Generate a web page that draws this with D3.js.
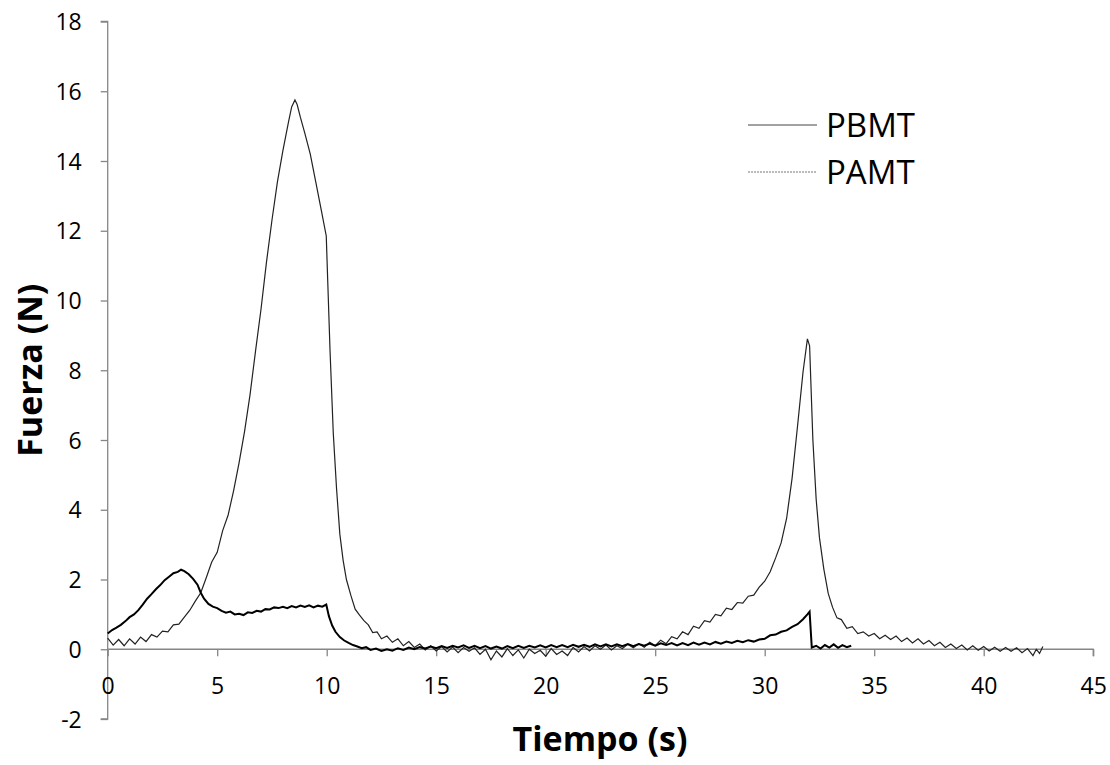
<!DOCTYPE html>
<html>
<head>
<meta charset="utf-8">
<script src="https://cdn.jsdelivr.net/npm/d3@7.9.0/dist/d3.min.js"></script>
<style>
  body { margin: 0; background: #fff; }
  svg text { font-family: "Open Sans", "Noto Sans", sans-serif; fill: #000; }
</style>
</head>
<body>
<svg id="chart" width="1110" height="765"></svg>
<script>
// series names as in the legend
const seriesNames = ['PBMT', 'PAMT'];

// PBMT: lower curve (hump near 3 s, small peak near 32 s)  [tiempo, fuerza]
const pbmt = [
  [0.00,0.45],[0.20,0.55],[0.40,0.62],[0.60,0.70],[0.80,0.80],[1.00,0.92],[1.20,1.00],[1.40,1.12],
  [1.60,1.28],[1.80,1.45],[2.00,1.58],[2.20,1.72],[2.40,1.84],[2.60,1.98],[2.80,2.08],[3.00,2.18],
  [3.20,2.22],[3.35,2.28],[3.50,2.24],[3.70,2.15],[3.90,2.02],[4.10,1.85],[4.25,1.62],[4.40,1.45],
  [4.60,1.30],[4.80,1.22],[5.00,1.18],[5.20,1.10],[5.40,1.05],[5.60,1.08],[5.80,1.00],[6.00,1.02],
  [6.20,0.98],[6.40,1.06],[6.60,1.04],[6.80,1.10],[7.00,1.08],[7.20,1.15],[7.40,1.14],[7.60,1.20],
  [7.80,1.18],[8.00,1.22],[8.20,1.18],[8.40,1.24],[8.60,1.20],[8.80,1.25],[9.00,1.21],[9.20,1.26],
  [9.40,1.20],[9.60,1.25],[9.80,1.22],[9.98,1.28],[10.10,0.95],[10.25,0.68],[10.40,0.50],[10.60,0.35],
  [10.80,0.25],[11.00,0.18],[11.20,0.12],[11.40,0.08],[11.60,0.03],[11.80,0.06],[12.00,-0.02],[12.25,0.02],
  [12.50,-0.05],[12.75,0.00],[13.00,-0.04],[13.25,0.03],[13.50,-0.02],[13.75,0.05],[14.00,0.00],[14.25,0.06],
  [14.50,0.02],[14.75,0.08],[15.00,0.03],[15.25,0.09],[15.50,0.04],[15.75,0.10],[16.00,0.05],[16.25,0.11],
  [16.50,0.04],[16.75,0.10],[17.00,0.03],[17.25,0.09],[17.50,0.02],[17.75,0.08],[18.00,0.02],[18.25,0.09],
  [18.50,0.03],[18.75,0.10],[19.00,0.04],[19.25,0.10],[19.50,0.05],[19.75,0.11],[20.00,0.05],[20.25,0.12],
  [20.50,0.06],[20.75,0.12],[21.00,0.06],[21.25,0.13],[21.50,0.07],[21.75,0.13],[22.00,0.07],[22.25,0.14],
  [22.50,0.08],[22.75,0.14],[23.00,0.08],[23.25,0.14],[23.50,0.09],[23.75,0.15],[24.00,0.09],[24.25,0.15],
  [24.50,0.10],[24.75,0.16],[25.00,0.10],[25.25,0.17],[25.50,0.12],[25.75,0.18],[26.00,0.11],[26.25,0.18],
  [26.50,0.12],[26.75,0.19],[27.00,0.13],[27.25,0.19],[27.50,0.14],[27.75,0.21],[28.00,0.16],[28.25,0.22],
  [28.50,0.18],[28.75,0.24],[29.00,0.20],[29.25,0.26],[29.50,0.22],[29.75,0.28],[30.00,0.30],[30.25,0.40],
  [30.50,0.42],[30.75,0.50],[31.00,0.54],[31.25,0.64],[31.50,0.72],[31.75,0.86],[31.95,1.00],[32.05,1.08],
  [32.15,0.05],[32.35,0.10],[32.55,0.02],[32.75,0.12],[32.95,0.05],[33.15,0.14],[33.35,0.04],[33.55,0.12],
  [33.75,0.06],[33.95,0.10]
];

// PAMT: big peak near 8.5 s and second peak near 32 s
const pamt = [
  [0.00,0.32],[0.25,0.12],[0.50,0.28],[0.75,0.10],[1.00,0.30],[1.25,0.15],[1.50,0.35],[1.75,0.22],
  [2.00,0.42],[2.25,0.35],[2.50,0.52],[2.75,0.50],[3.00,0.70],[3.25,0.72],[3.50,0.92],[3.75,1.12],
  [4.00,1.38],[4.25,1.62],[4.50,2.05],[4.75,2.50],[5.00,2.78],[5.25,3.40],[5.50,3.85],[5.75,4.55],
  [6.00,5.35],[6.25,6.25],[6.50,7.30],[6.75,8.55],[7.00,9.75],[7.25,11.10],[7.50,12.30],[7.75,13.40],
  [8.00,14.30],[8.25,15.10],[8.40,15.55],[8.55,15.75],[8.65,15.62],[8.80,15.25],[9.00,14.80],[9.25,14.20],
  [9.50,13.40],[9.75,12.60],[9.98,11.85],[10.05,10.50],[10.15,8.60],[10.30,6.20],[10.45,4.60],[10.60,3.30],
  [10.75,2.55],[10.90,2.00],[11.10,1.55],[11.30,1.15],[11.50,0.98],[11.70,0.82],[11.90,0.70],[12.10,0.48],
  [12.30,0.50],[12.50,0.30],[12.75,0.38],[13.00,0.20],[13.25,0.30],[13.50,0.10],[13.75,0.22],[14.00,0.05],
  [14.25,0.15],[14.50,-0.02],[14.75,0.10],[15.00,-0.05],[15.25,0.08],[15.50,-0.08],[15.75,0.06],[16.00,-0.10],
  [16.25,0.05],[16.50,-0.06],[16.75,0.04],[17.00,-0.15],[17.25,0.00],[17.50,-0.30],[17.75,-0.05],[18.00,-0.22],
  [18.25,0.02],[18.50,-0.18],[18.75,-0.02],[19.00,-0.25],[19.25,0.00],[19.50,-0.12],[19.75,-0.03],[20.00,-0.20],
  [20.25,0.02],[20.50,-0.15],[20.75,-0.05],[21.00,-0.18],[21.25,0.05],[21.50,-0.08],[21.75,0.08],[22.00,-0.05],
  [22.25,0.10],[22.50,0.00],[22.75,0.12],[23.00,-0.02],[23.25,0.10],[23.50,0.02],[23.75,0.14],[24.00,0.04],
  [24.25,0.16],[24.50,0.06],[24.75,0.20],[25.00,0.10],[25.25,0.26],[25.50,0.16],[25.75,0.36],[26.00,0.30],
  [26.25,0.50],[26.50,0.42],[26.75,0.66],[27.00,0.60],[27.25,0.82],[27.50,0.78],[27.75,1.00],[28.00,0.96],
  [28.25,1.18],[28.50,1.14],[28.75,1.34],[29.00,1.32],[29.25,1.52],[29.50,1.55],[29.75,1.78],[30.00,1.95],
  [30.25,2.22],[30.50,2.62],[30.75,3.05],[31.00,3.75],[31.25,4.90],[31.50,6.40],[31.75,7.95],[31.95,8.90],
  [32.05,8.70],[32.20,6.00],[32.35,4.30],[32.50,3.20],[32.70,2.30],[32.90,1.60],[33.10,1.20],[33.30,0.90],
  [33.50,0.85],[33.75,0.60],[34.00,0.65],[34.25,0.45],[34.50,0.50],[34.75,0.38],[35.00,0.45],[35.25,0.30],
  [35.50,0.40],[35.75,0.28],[36.00,0.38],[36.25,0.22],[36.50,0.32],[36.75,0.18],[37.00,0.30],[37.25,0.15],
  [37.50,0.25],[37.75,0.10],[38.00,0.20],[38.25,0.05],[38.50,0.15],[38.75,0.02],[39.00,0.12],[39.25,-0.02],
  [39.50,0.10],[39.75,-0.03],[40.00,0.08],[40.25,-0.05],[40.50,0.06],[40.75,-0.06],[41.00,0.05],[41.25,-0.06],
  [41.50,0.04],[41.75,-0.10],[42.00,0.02],[42.25,-0.18],[42.40,0.00],[42.55,-0.12],[42.70,0.08]
];

const xTicks = [0, 5, 10, 15, 20, 25, 30, 35, 40, 45];
const yTicks = [-2, 0, 2, 4, 6, 8, 10, 12, 14, 16, 18];

const svg = d3.select('#chart');
const axisColor = '#868686';

let x = d3.scaleLinear().domain([0, 45]).range([107.7, 1093.2]);
let y = d3.scaleLinear().domain([-2, 18]).range([719, 21.5]);

// y axis (vertical line at x = 0)
let yAxis = svg.append('g').attr('transform', `translate(${x(0)},0)`)
  .call(d3.axisLeft(y).tickValues(yTicks).tickSize(7).tickPadding(19).tickFormat(d => String(d)));
yAxis.select('.domain').attr('stroke', axisColor).attr('stroke-width', 1.3).attr('d', `M-7,${y(-2)}H0V${y(18)}H-7`);
yAxis.selectAll('.tick line').attr('stroke', axisColor).attr('stroke-width', 1.3);
yAxis.selectAll('.tick text').style('font-size', '23px').attr('dy', '0.35em').attr('fill', '#000');

// x axis at y = 0
let xAxis = svg.append('g').attr('transform', `translate(0,${y(0)})`)
  .call(d3.axisBottom(x).tickValues(xTicks).tickSize(7).tickPadding(21).tickFormat(d => String(d)));
xAxis.select('.domain').attr('stroke', axisColor).attr('stroke-width', 1.3).attr('d', `M${x(0)},0H${x(45)}V7`);
xAxis.selectAll('.tick line').attr('stroke', axisColor).attr('stroke-width', 1.3);
xAxis.selectAll('.tick text').style('font-size', '23px').attr('fill', '#000');

// lines
let line = d3.line().x(d => x(d[0])).y(d => y(d[1]));

svg.append('path').datum(pamt)
  .attr('d', line).attr('fill', 'none').attr('stroke', '#222').attr('stroke-width', 1.2);
svg.append('path').datum(pbmt)
  .attr('d', line).attr('fill', 'none').attr('stroke', '#000').attr('stroke-width', 2);

// axis titles
svg.append('text').attr('x', 600).attr('y', 751).attr('text-anchor', 'middle')
  .style('font-size', '34px').style('font-weight', 'bold').text('Tiempo (s)');
svg.append('text').attr('transform', `translate(42,${y(8)}) rotate(-90)`).attr('text-anchor', 'middle')
  .style('font-size', '34px').style('font-weight', 'bold').text('Fuerza (N)');

// legend
let legendY = [125, 172];
seriesNames.forEach((name, i) => {
  svg.append('line').attr('x1', 748).attr('x2', 817).attr('y1', legendY[i]).attr('y2', legendY[i])
    .attr('stroke', i === 0 ? '#444' : '#777').attr('stroke-width', 1)
    .attr('stroke-dasharray', i === 0 ? null : '2,1');
  svg.append('text').attr('x', 826).attr('y', legendY[i]).attr('dy', '0.35em')
    .style('font-size', '33px').text(name);
});
</script>
</body>
</html>
